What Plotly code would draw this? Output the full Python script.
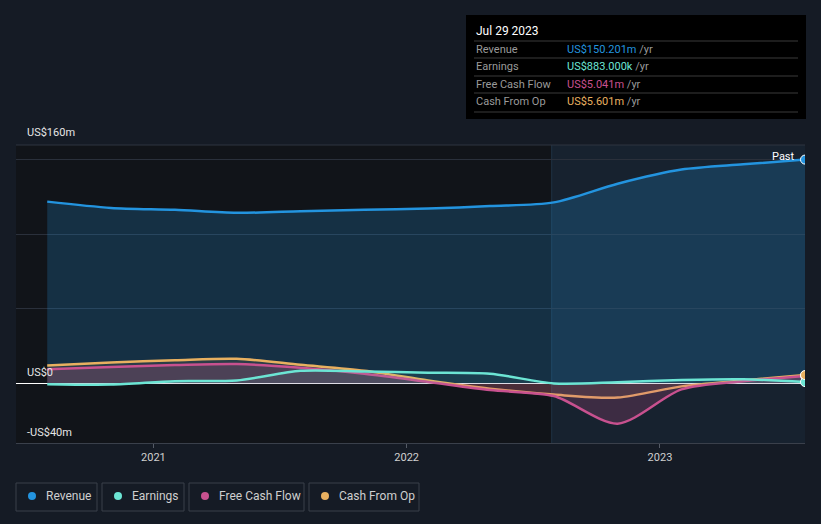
import plotly.graph_objects as go

dates = ["2020-08-01", "2020-11-01", "2021-02-01", "2021-05-01", "2021-08-01", "2021-11-01",
         "2022-02-01", "2022-05-01", "2022-08-01", "2022-11-01", "2023-02-01", "2023-05-01", "2023-07-29"]
revenue = [122, 117.8, 116.5, 114.5, 115.5, 116.5, 117.3, 119, 121.5, 134, 143.5, 147, 150.201]
earnings = [-0.5, -0.8, 1.5, 2, 8.5, 8, 7.2, 6.5, 0, 0.8, 2.3, 2.8, 0.883]
fcf = [9.5, 11, 12.3, 13, 10.5, 6.5, 1, -4.5, -8.5, -27, -4, 1.5, 5.041]
cfo = [12, 14, 15.5, 16.5, 12.5, 8.5, 2, -3.5, -7.5, -9.5, -2, 2, 5.601]

series_names = ["Revenue", "Earnings", "Free Cash Flow", "Cash From Op"]
series_colors = ["#2394df", "#6ce5d4", "#c8518f", "#e8b060"]
tooltip_date = "Jul 29 2023"
tooltip_values = ["US$150.201m", "US$883.000k", "US$5.041m", "US$5.601m"]
y_labels = [(160, "US$160m"), (0, "US$0"), (-40, "-US$40m")]
past_start = "2022-07-29"
x_start = "2020-06-17"

W, H = 821, 524
L, R, T, B = 16, 805, 145, 443


def px(x):
    return (x - L) / (R - L)


def py(y):
    return (B - y) / (B - T)


fig = go.Figure()

fills = ["rgba(35,148,223,0.22)", "rgba(108,229,212,0.08)", "rgba(200,81,143,0.22)", "rgba(232,176,96,0.10)"]
data = [revenue, earnings, fcf, cfo]
order = [0, 3, 2, 1]
for i in order:
    fig.add_trace(go.Scatter(
        x=dates, y=data[i], mode="lines", name=series_names[i],
        line=dict(color=series_colors[i], width=2.5, shape="spline", smoothing=0.8),
        fill="tozeroy", fillcolor=fills[i], hoverinfo="skip", showlegend=False))

# end markers (clipped at the plot edge)
for i in [0, 2, 1, 3]:
    fig.add_trace(go.Scatter(
        x=[dates[-1]], y=[data[i][-1]], mode="markers",
        marker=dict(size=9, color=series_colors[i], line=dict(color="white", width=1)),
        hoverinfo="skip", showlegend=False, cliponaxis=True))

shapes = []
# past year highlight
shapes.append(dict(type="rect", xref="x", yref="paper", x0=past_start, x1=dates[-1], y0=0, y1=1,
                   fillcolor="#17222f", line=dict(width=0), layer="below"))
shapes.append(dict(type="line", xref="x", yref="paper", x0=past_start, x1=past_start, y0=0, y1=1,
                   line=dict(color="#1f3346", width=1), layer="below"))
# top border
shapes.append(dict(type="line", xref="paper", yref="paper", x0=0, x1=1, y0=1, y1=1,
                   line=dict(color="#2e3440", width=1)))

annotations = []
for v, t in y_labels:
    yy = {160: 132, 0: 372, -40: 432}[v]
    annotations.append(dict(xref="paper", yref="paper", x=px(25), y=py(yy), text=t, showarrow=False,
                            xanchor="left", yanchor="middle", font=dict(size=11, color="#e6e6e6")))

annotations.append(dict(xref="paper", yref="paper", x=px(797), y=py(156), text="Past", showarrow=False,
                        xanchor="right", yanchor="middle", font=dict(size=11, color="#ffffff")))

# tooltip
shapes.append(dict(type="rect", xref="paper", yref="paper", x0=px(466), x1=px(806), y0=py(15), y1=py(119),
                   fillcolor="#000000", line=dict(width=0)))
for ly in [41, 58, 76, 93, 112]:
    shapes.append(dict(type="line", xref="paper", yref="paper", x0=px(474), x1=px(798), y0=py(ly), y1=py(ly),
                       line=dict(color="#3a3a3a", width=1)))
annotations.append(dict(xref="paper", yref="paper", x=px(474), y=py(31), text=tooltip_date, showarrow=False,
                        xanchor="left", yanchor="middle", font=dict(size=12, color="#ffffff")))
for k, ry in enumerate([49, 66, 84, 101]):
    annotations.append(dict(xref="paper", yref="paper", x=px(474), y=py(ry), text=series_names[k],
                            showarrow=False, xanchor="left", yanchor="middle",
                            font=dict(size=11, color="#9a9a9a")))
    annotations.append(dict(xref="paper", yref="paper", x=px(565), y=py(ry),
                            text=f"<span style='color:{series_colors[k]}'>{tooltip_values[k]}</span> <span style='color:#9a9a9a'>/yr</span>",
                            showarrow=False, xanchor="left", yanchor="middle", font=dict(size=11)))

# legend
boxes = [(16, 97), (102, 184), (189, 304), (309, 419)]
for k, (x0, x1) in enumerate(boxes):
    shapes.append(dict(type="rect", xref="paper", yref="paper", x0=px(x0), x1=px(x1), y0=py(483), y1=py(511),
                       line=dict(color="#3a404b", width=1), fillcolor="rgba(0,0,0,0)"))
    shapes.append(dict(type="circle", xref="paper", yref="paper", x0=px(x0 + 12), x1=px(x0 + 20),
                       y0=py(492), y1=py(500), fillcolor=series_colors[k], line=dict(width=0)))
    annotations.append(dict(xref="paper", yref="paper", x=px(x0 + 28), y=py(496), text=series_names[k],
                            showarrow=False, xanchor="left", yanchor="middle",
                            font=dict(size=12, color="#cfcfcf")))

fig.update_layout(
    width=W, height=H,
    margin=dict(l=L, r=W - R, t=T, b=H - B, pad=0),
    paper_bgcolor="#151b25",
    plot_bgcolor="#111419",
    font=dict(family="Roboto, sans-serif"),
    shapes=shapes, annotations=annotations,
    showlegend=False,
    xaxis=dict(range=[x_start, dates[-1]], showgrid=False, zeroline=False,
               tickvals=["2021-01-01", "2022-01-01", "2023-01-01"], ticktext=["2021", "2022", "2023"],
               tickfont=dict(size=11, color="#d0d0d0"), ticks="outside", ticklen=4, tickcolor="#555b66",
               showline=True, linecolor="#3a404b", linewidth=1, fixedrange=True),
    yaxis=dict(range=[-40, 160], tickvals=[-40, 0, 50, 100, 150], showticklabels=False,
               showgrid=True, gridcolor="#2a303b", gridwidth=1,
               zeroline=True, zerolinecolor="#ffffff", zerolinewidth=1, fixedrange=True),
)

fig.write_html("out.html", config={"displayModeBar": False},
               post_script="document.body.style.margin='0';document.body.style.background='#151b25';")
